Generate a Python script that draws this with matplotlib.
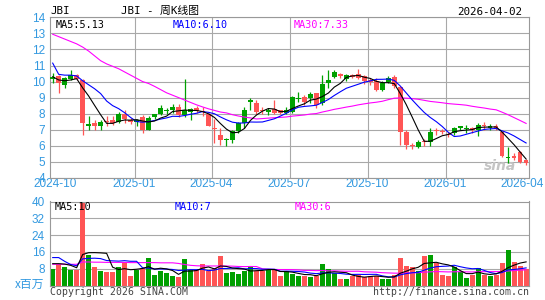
import numpy as np
import pandas as pd
import matplotlib
matplotlib.use("Agg")
import matplotlib.pyplot as plt

# ---------------- data (weekly candles) ----------------
opens = [10.13, 10.34, 9.80, 10.15, 10.40, 10.10, 7.25, 7.43, 7.23, 7.50,
         7.58, 7.50, 8.00, 7.60, 7.45, 7.77, 7.00, 7.77, 7.95, 8.15,
         8.22, 8.43, 7.92, 8.12, 8.33, 8.15, 7.97, 7.12, 6.67, 6.38,
         6.36, 6.90, 7.40, 8.74, 8.68, 8.20, 8.12, 8.28, 8.22, 8.06,
         8.12, 8.90, 9.05, 8.95, 9.26, 8.64, 9.90, 10.30, 10.46, 10.13,
         10.40, 10.46, 10.34, 10.09, 10.05, 9.50, 9.98, 10.29, 9.67, 6.88,
         6.05, 5.90, 6.30, 6.26, 6.95, 6.92, 6.72, 6.78, 7.08, 7.02,
         7.08, 6.98, 7.25, 7.10, 7.20, 6.85, 5.22, 5.35, 5.60, 5.10]
highs = [10.54, 10.40, 10.30, 10.75, 10.45, 10.15, 7.85, 7.60, 7.60, 7.85,
         7.85, 8.12, 8.20, 7.70, 7.65, 7.90, 7.85, 8.00, 8.53, 8.35,
         8.60, 8.60, 10.13, 8.33, 8.47, 8.43, 8.05, 7.64, 7.08, 6.48,
         6.98, 7.50, 8.43, 9.00, 8.85, 8.43, 8.33, 8.88, 8.25, 8.43,
         9.10, 9.36, 9.15, 9.35, 9.30, 10.40, 10.70, 10.75, 10.54, 10.50,
         10.45, 10.80, 10.40, 10.20, 10.20, 10.05, 10.34, 10.40, 9.72, 6.98,
         6.15, 6.35, 6.40, 7.08, 7.08, 7.05, 6.88, 7.15, 7.25, 7.30,
         7.15, 7.40, 7.50, 7.35, 7.35, 6.90, 5.90, 5.55, 5.65, 5.20]
lows = [9.88, 9.30, 9.60, 10.10, 10.10, 6.67, 6.95, 7.00, 6.98, 7.25,
        7.30, 7.40, 7.40, 7.35, 7.20, 6.80, 6.95, 7.65, 7.90, 7.97,
        8.05, 7.80, 7.77, 7.60, 8.05, 7.85, 7.20, 6.20, 6.05, 6.00,
        6.20, 6.82, 7.08, 8.22, 8.00, 7.97, 7.90, 8.00, 8.00, 7.97,
        8.05, 8.74, 8.55, 8.68, 8.33, 8.53, 9.57, 10.20, 10.20, 10.05,
        10.20, 10.13, 9.84, 9.78, 9.43, 9.43, 9.88, 9.57, 6.05, 5.78,
        5.80, 5.85, 6.00, 6.00, 6.67, 6.70, 6.52, 6.67, 6.95, 6.82,
        6.82, 6.60, 6.95, 7.00, 6.95, 5.30, 4.90, 5.10, 4.95, 4.80]
closes = [10.29, 9.88, 10.20, 10.40, 10.13, 7.42, 7.35, 7.25, 7.50, 7.45,
          7.42, 8.00, 7.65, 7.45, 7.60, 7.00, 7.70, 7.95, 8.37, 8.20,
          8.43, 7.92, 8.20, 8.26, 8.18, 8.08, 7.23, 7.05, 6.36, 6.45,
          6.94, 7.40, 8.22, 8.88, 8.12, 8.15, 8.22, 8.06, 8.06, 8.22,
          9.05, 9.00, 8.74, 9.20, 8.55, 9.84, 10.09, 10.60, 10.36, 10.40,
          10.30, 10.25, 10.05, 9.98, 9.50, 9.88, 10.25, 9.75, 6.88, 6.05,
          5.97, 6.26, 6.22, 6.88, 6.90, 6.85, 6.65, 7.08, 7.20, 7.10,
          7.00, 7.29, 7.20, 7.25, 7.12, 5.38, 5.32, 5.22, 5.00, 4.93]
volumes = [8.0, 10.3, 8.8, 7.6, 7.6, 39.5, 14.6, 9.0, 7.0, 6.5,
           6.5, 9.0, 11.0, 4.6, 7.6, 8.4, 13.2, 5.0, 7.0, 5.9,
           4.6, 4.0, 12.6, 7.2, 7.2, 10.3, 6.8, 8.1, 14.1, 6.1,
           6.4, 5.5, 7.1, 9.3, 7.0, 7.0, 7.5, 7.2, 4.6, 6.8,
           5.7, 4.5, 4.5, 4.2, 4.4, 10.3, 8.0, 5.8, 3.1, 3.3,
           4.6, 4.9, 4.0, 4.6, 4.6, 3.1, 3.3, 5.0, 13.2, 9.4,
           8.7, 7.1, 14.1, 14.6, 10.8, 5.0, 4.6, 9.0, 6.2, 3.6,
           4.8, 8.3, 5.0, 4.6, 5.0, 10.9, 17.0, 11.0, 9.5, 7.8]

# moving-average values at the start of the window (read from the picture,
# they depend on weeks before the first candle)
ma5_head = [10.30, 10.10, 10.05, 10.10]
ma10_head = [11.15, 10.45, 10.40, 10.40, 10.35, 10.05, 9.80, 9.55, 9.25]
ma30_head = [12.95, 12.80, 12.65, 12.50, 12.35, 12.15, 11.90, 11.60, 11.30, 11.10,
             10.95, 10.80, 10.60, 10.40, 10.20, 10.00, 9.88, 9.70, 9.50, 9.30,
             9.15, 9.00, 8.85, 8.70, 8.55, 8.42, 8.30, 8.20, 8.10]
vma5_head = [10.4, 10.4, 10.2, 9.6]
vma10_head = [13.3, 13.3, 11.5, 10.0, 9.4, 12.7, 12.9, 13.0, 12.8]
vma30_head = [10.1, 10.1, 10.1, 10.1, 10.1, 11.2, 11.2, 11.1, 11.1, 11.0,
              11.0, 11.0, 11.0, 10.9, 10.9, 10.9, 10.9, 10.9, 10.8, 10.8,
              10.8, 10.5, 10.0, 9.6, 9.4, 9.3, 9.3, 9.3, 9.3]

price_ticks = [4, 5, 6, 7, 8, 9, 10, 11, 12, 13, 14]
vol_ticks = [8, 16, 24, 32, 40]
date_labels = ["2024-10", "2025-01", "2025-04", "2025-07", "2025-10", "2026-01", "2026-04"]
date_label_pos = [0.4, 13.6, 26.5, 39.5, 52.5, 65.5, 78.3]
date_grid_pos = [13.7, 26.6, 39.6, 52.6, 65.6]

title_left = "JBI"
title_mid = "JBI - 周K线图"
title_date = "2026-04-02"
ma_texts = ["MA5:5.13", "MA10:6.10", "MA30:7.33"]
vma_texts = ["MA5:10", "MA10:7", "MA30:6"]


def with_head(values, n, head):
    s = pd.Series(values, dtype=float).rolling(n).mean().to_numpy()
    s[:n - 1] = head
    return s


ma5 = with_head(closes, 5, ma5_head)
ma10 = with_head(closes, 10, ma10_head)
ma30 = with_head(closes, 30, ma30_head)
vma5 = with_head(volumes, 5, vma5_head)
vma10 = with_head(volumes, 10, vma10_head)
vma30 = with_head(volumes, 30, vma30_head)

# ---------------- styling ----------------
W, H = 545, 300
RED = "#FF5555"
GREEN = "#00A000"
TICK_BLUE = "#3399E0"
GRID = "#A8A8A8"
FRAME = "#999999"
MONO = ["DejaVu Sans Mono", "Noto Sans CJK SC"]
LAB = "Liberation Sans"

fig = plt.figure(figsize=(W / 100, H / 100), dpi=100)
fig.patch.set_facecolor("white")


def fx(px):
    return px / W


def fy(py):
    return 1 - py / H


left_px, right_px = 50, 528.5
ax = fig.add_axes([fx(left_px), fy(177.8), fx(right_px - left_px), (177.8 - 17.4) / H])
axv = fig.add_axes([fx(left_px), fy(285.5), fx(right_px - left_px), (285.5 - 201.5) / H])

n = len(closes)
x = np.arange(n)
colors = [GREEN if c >= o else RED for o, c in zip(opens, closes)]
xlim = (-0.45, 79.4)

for a in (ax, axv):
    a.set_xlim(*xlim)
    for sp in a.spines.values():
        sp.set_color(FRAME)
        sp.set_linewidth(0.8)
    a.tick_params(length=0, colors=TICK_BLUE, labelsize=8.5)
    a.set_axisbelow(True)

# ---- price panel ----
ax.set_ylim(4, 14)
ax.set_yticks(price_ticks)
ax.set_yticklabels([str(t) for t in price_ticks], fontfamily=LAB, color=TICK_BLUE)
ax.yaxis.grid(True, color=GRID, linewidth=0.8)
for gx in date_grid_pos:
    ax.axvline(gx, color=GRID, linewidth=0.8, zorder=0)
ax.set_xticks(date_label_pos)
ax.set_xticklabels(date_labels, fontfamily=LAB, color=TICK_BLUE)
ax.tick_params(axis="x", pad=0.5)
ax.tick_params(axis="y", pad=3.6)

body_bottom = [min(o, c) for o, c in zip(opens, closes)]
body_height = [max(abs(c - o), 0.07) for o, c in zip(opens, closes)]
ax.vlines(x, lows, highs, colors=colors, linewidth=0.9, zorder=2)
ax.bar(x, body_height, bottom=body_bottom, width=0.78, color=colors, linewidth=0, zorder=3)

ax.plot(x, ma30, color="#FF00FF", linewidth=0.8, zorder=4)
ax.plot(x, ma10, color="#0000FF", linewidth=0.8, zorder=4)
ax.plot(x, ma5, color="black", linewidth=0.8, zorder=5)

ax.text(0.012, 0.955, ma_texts[0], transform=ax.transAxes, color="black",
        fontfamily=MONO, fontsize=7.3, va="center", ha="left")
ax.text((173 - left_px) / (right_px - left_px), 0.955, ma_texts[1], transform=ax.transAxes,
        color="#0000FF", fontfamily=MONO, fontsize=7.3, va="center", ha="left")
ax.text((294 - left_px) / (right_px - left_px), 0.955, ma_texts[2], transform=ax.transAxes,
        color="#FF00FF", fontfamily=MONO, fontsize=7.3, va="center", ha="left")

# sina watermark
ax.text(0.975, 0.075, "sina", transform=ax.transAxes, color="#C4C4C4", fontsize=10,
        fontstyle="italic", fontweight="bold", fontfamily="DejaVu Sans",
        ha="right", va="center", zorder=1)

# ---- volume panel ----
axv.set_ylim(0, 40)
axv.set_yticks(vol_ticks)
axv.set_yticklabels([str(t) for t in vol_ticks], fontfamily=LAB, color=TICK_BLUE)
axv.yaxis.grid(True, color=GRID, linewidth=0.8)
axv.set_xticks([])
axv.tick_params(axis="y", pad=3.6)
axv.bar(x, volumes, width=0.82, color=colors, linewidth=0, zorder=2)
axv.plot(x, vma30, color="#FF00FF", linewidth=0.8, zorder=3)
axv.plot(x, vma10, color="#0000FF", linewidth=0.8, zorder=3)
axv.plot(x, vma5, color="black", linewidth=0.8, zorder=4)

axv.text((54.7 - left_px) / (right_px - left_px), 0.93, vma_texts[0], transform=axv.transAxes,
         color="black", fontfamily=MONO, fontsize=7.3, va="center", ha="left")
axv.text((175 - left_px) / (right_px - left_px), 0.93, vma_texts[1], transform=axv.transAxes,
         color="#0000FF", fontfamily=MONO, fontsize=7.3, va="center", ha="left")
axv.text((295 - left_px) / (right_px - left_px), 0.93, vma_texts[2], transform=axv.transAxes,
         color="#FF00FF", fontfamily=MONO, fontsize=7.3, va="center", ha="left")

# ---- figure texts ----
fig.text(fx(50), fy(11), title_left, fontfamily=MONO, fontsize=7.8, va="center", ha="left")
fig.text(fx(121), fy(11), title_mid, fontfamily=MONO, fontsize=7.8, va="center", ha="left")
fig.text(fx(522), fy(12), title_date, fontfamily=MONO, fontsize=7.8, va="center", ha="right")
fig.text(fx(44), fy(284), "x百万", fontfamily=["Noto Sans CJK SC", "DejaVu Sans"], fontsize=8.5,
         color=TICK_BLUE, va="center", ha="right")
fig.text(fx(50), fy(292), "Copyright 2026 SINA.COM", fontfamily=MONO, fontsize=7.1,
         color="#444444", va="center", ha="left")
fig.text(fx(529), fy(292), "http://finance.sina.com.cn", fontfamily=MONO, fontsize=7.1,
         color="#444444", va="center", ha="right")

fig.savefig("out.png", dpi=100, facecolor="white")
